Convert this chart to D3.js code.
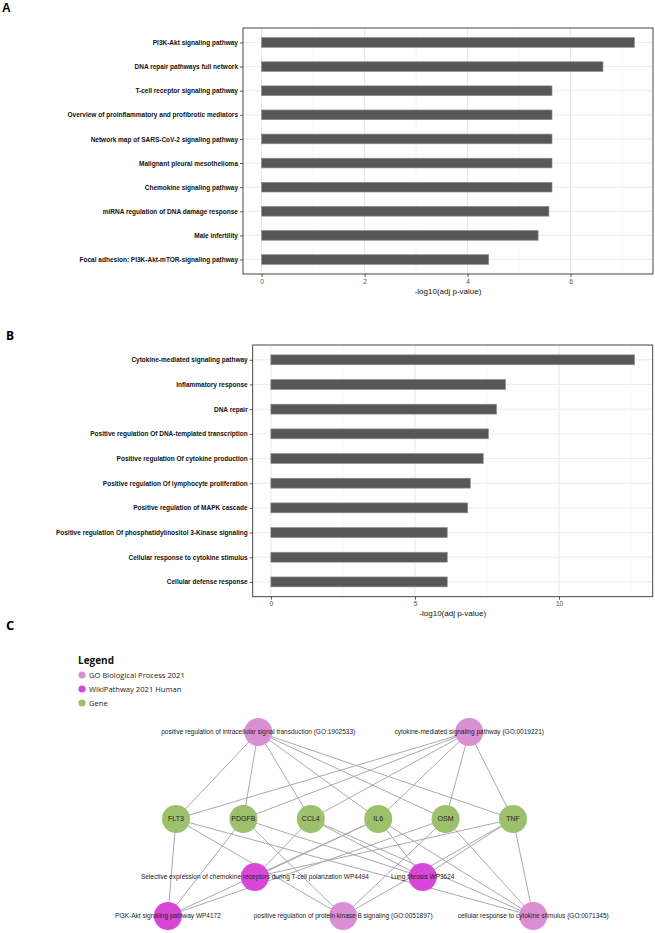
<!DOCTYPE html>
<html>
<head>
<meta charset="utf-8">
<script src="https://cdn.jsdelivr.net/npm/d3@7"></script>
<style>
  body { margin: 0; background: #fff; }
  svg { display: block; }
</style>
</head>
<body>
<svg id="chart" width="655" height="933"></svg>
<script>
// Panel A - WikiPathway enrichment
const pathwaysA = [
  'PI3K-Akt signaling pathway',
  'DNA repair pathways full network',
  'T-cell receptor signaling pathway',
  'Overview of proinflammatory and profibrotic mediators',
  'Network map of SARS-CoV-2 signaling pathway',
  'Malignant pleural mesothelioma',
  'Chemokine signaling pathway',
  'miRNA regulation of DNA damage response',
  'Male infertility',
  'Focal adhesion: PI3K-Akt-mTOR-signaling pathway'
];
const valuesA = [7.24, 6.63, 5.64, 5.64, 5.64, 5.64, 5.64, 5.58, 5.37, 4.41];
const ticksA = [0, 2, 4, 6];
const minorA = [1, 3, 5, 7];

// Panel B - GO biological process enrichment
const termsB = [
  'Cytokine-mediated signaling pathway',
  'Inflammatory response',
  'DNA repair',
  'Positive regulation Of DNA-templated transcription',
  'Positive regulation Of cytokine production',
  'Positive regulation Of lymphocyte proliferation',
  'Positive regulation of MAPK cascade',
  'Positive regulation Of phosphatidylinositol 3-Kinase signaling',
  'Cellular response to cytokine stimulus',
  'Cellular defense response'
];
const valuesB = [12.62, 8.14, 7.83, 7.55, 7.37, 6.92, 6.83, 6.12, 6.12, 6.12];
const ticksB = [0, 5, 10];
const minorB = [2.5, 7.5, 12.5];

const axisTitle = '-log10(adj p-value)';

// Panel C - network
const legendLabels = ['GO Biological Process 2021', 'WikiPathway 2021 Human', 'Gene'];
const genes = ['FLT3', 'PDGFB', 'CCL4', 'IL6', 'OSM', 'TNF'];
const goTerms = [
  'positive regulation of intracellular signal transduction (GO:1902533)',
  'cytokine-mediated signaling pathway (GO:0019221)',
  'positive regulation of protein kinase B signaling (GO:0051897)',
  'cellular response to cytokine stimulus (GO:0071345)'
];
const wikiTerms = [
  'Selective expression of chemokine receptors during T-cell polarization WP4494',
  'Lung fibrosis WP3624',
  'PI3K-Akt signaling pathway WP4172'
];
const edges = [
  [goTerms[0], 'FLT3'], [goTerms[0], 'PDGFB'], [goTerms[0], 'CCL4'],
  [goTerms[0], 'IL6'], [goTerms[0], 'OSM'], [goTerms[0], 'TNF'],
  [goTerms[1], 'FLT3'], [goTerms[1], 'PDGFB'], [goTerms[1], 'CCL4'],
  [goTerms[1], 'IL6'], [goTerms[1], 'OSM'], [goTerms[1], 'TNF'],
  [wikiTerms[0], 'CCL4'], [wikiTerms[0], 'IL6'], [wikiTerms[0], 'TNF'],
  [wikiTerms[1], 'PDGFB'], [wikiTerms[1], 'CCL4'], [wikiTerms[1], 'IL6'], [wikiTerms[1], 'TNF'],
  [wikiTerms[2], 'FLT3'], [wikiTerms[2], 'PDGFB'], [wikiTerms[2], 'IL6'], [wikiTerms[2], 'OSM'],
  [goTerms[2], 'FLT3'], [goTerms[2], 'PDGFB'], [goTerms[2], 'OSM'], [goTerms[2], 'TNF'],
  [goTerms[3], 'FLT3'], [goTerms[3], 'CCL4'], [goTerms[3], 'IL6'], [goTerms[3], 'OSM'], [goTerms[3], 'TNF']
];

const svg = d3.select('#chart');
const sans = 'Liberation Sans, Arial, sans-serif';

// Panel letters
svg.append('text').attr('x', 2).attr('y', 12)
  .style('font-family', sans).style('font-weight', 'bold').style('font-size', '12px')
  .text('A');
svg.append('text').attr('x', 6).attr('y', 340)
  .style('font-family', 'Open Sans, sans-serif').style('font-weight', 'bold').style('font-size', '12px')
  .text('B');
svg.append('text').attr('x', 6).attr('y', 630)
  .style('font-family', 'Open Sans, sans-serif').style('font-weight', 'bold').style('font-size', '13px')
  .text('C');

// ggplot-like horizontal bar chart
function drawBars(opts) {
  const { labels, values, ticks, minor, left, right, top, bottom } = opts;
  const max = d3.max(values);
  const x = d3.scaleLinear()
    .domain([-0.05 * max, 1.05 * max])
    .range([left, right]);
  const y = d3.scalePoint()
    .domain(labels)
    .range([top, bottom])
    .padding(0.6);
  const barH = y.step() * 0.4;

  const g = svg.append('g');

  // minor grid
  g.selectAll('.minor')
    .data(minor)
    .enter().append('line')
    .attr('x1', d => x(d)).attr('x2', d => x(d))
    .attr('y1', top).attr('y2', bottom)
    .attr('stroke', '#f2f2f2').attr('stroke-width', 0.6);

  // major grid
  g.selectAll('.major-x')
    .data(ticks)
    .enter().append('line')
    .attr('x1', d => x(d)).attr('x2', d => x(d))
    .attr('y1', top).attr('y2', bottom)
    .attr('stroke', '#e8e8e8').attr('stroke-width', 1);

  g.selectAll('.major-y')
    .data(labels)
    .enter().append('line')
    .attr('x1', left).attr('x2', right)
    .attr('y1', d => y(d)).attr('y2', d => y(d))
    .attr('stroke', '#ececec').attr('stroke-width', 1);

  // bars
  g.selectAll('.bar')
    .data(labels)
    .enter().append('rect')
    .attr('x', x(0))
    .attr('y', d => y(d) - barH / 2)
    .attr('width', (d, i) => x(values[i]) - x(0))
    .attr('height', barH)
    .attr('fill', '#575757')
    .attr('stroke', '#8c8c8c')
    .attr('stroke-width', 0.7);

  // panel border
  g.append('rect')
    .attr('x', left).attr('y', top)
    .attr('width', right - left).attr('height', bottom - top)
    .attr('fill', 'none')
    .attr('stroke', '#333333')
    .attr('stroke-width', 0.9);

  // axes
  const xAxis = g.append('g')
    .attr('transform', `translate(0,${bottom})`)
    .call(d3.axisBottom(x).tickValues(ticks).tickSize(3).tickPadding(2));
  xAxis.select('.domain').remove();
  xAxis.selectAll('line').attr('stroke', '#333333').attr('stroke-width', 0.8);
  xAxis.selectAll('text')
    .style('font-family', sans).style('font-size', '6.5px').style('fill', '#4d4d4d');

  const yAxis = g.append('g')
    .attr('transform', `translate(${left},0)`)
    .call(d3.axisLeft(y).tickSize(3).tickPadding(2));
  yAxis.select('.domain').remove();
  yAxis.selectAll('line').attr('stroke', '#333333').attr('stroke-width', 0.8);
  yAxis.selectAll('text')
    .style('font-family', sans).style('font-size', '6.5px')
    .style('font-weight', 'bold').style('fill', '#111111');

  g.append('text')
    .attr('x', (left + right) / 2)
    .attr('y', bottom + 19.5)
    .attr('text-anchor', 'middle')
    .style('font-family', sans).style('font-size', '8px').style('fill', '#111111')
    .text(axisTitle);
}

drawBars({ labels: pathwaysA, values: valuesA, ticks: ticksA, minor: minorA,
  left: 243, right: 653, top: 28, bottom: 274 });
drawBars({ labels: termsB, values: valuesB, ticks: ticksB, minor: minorB,
  left: 252.7, right: 652.7, top: 345, bottom: 596.7 });

// Legend
const nodeColor = { go: '#da8fd4', wiki: '#d947d9', gene: '#9cc06c' };
const legendColor = d3.scaleOrdinal()
  .domain(legendLabels)
  .range([nodeColor.go, nodeColor.wiki, nodeColor.gene]);
const legendY = d3.scalePoint().domain(legendLabels).range([675, 703]);

svg.append('text')
  .attr('x', 78).attr('y', 664)
  .style('font-family', 'Open Sans, sans-serif').style('font-weight', 'bold').style('font-size', '10px')
  .style('fill', '#111')
  .text('Legend');
const legend = svg.append('g');
legend.selectAll('circle')
  .data(legendLabels)
  .enter().append('circle')
  .attr('cx', 82).attr('cy', d => legendY(d)).attr('r', 3.6)
  .attr('fill', d => legendColor(d));
legend.selectAll('text')
  .data(legendLabels)
  .enter().append('text')
  .attr('x', 89).attr('y', d => legendY(d)).attr('dy', '0.35em')
  .style('font-family', 'Open Sans, sans-serif').style('font-size', '7.6px').style('fill', '#222')
  .text(d => d);

// Network layout (column units along the gene row, plus row heights)
const col = d3.scaleLinear().domain([0, 5]).range([176, 513]);
const rowY = { top: 732, gene: 819, mid: 877, bottom: 916 };
const layout = {};
genes.forEach((gName, i) => { layout[gName] = { c: i, r: 'gene', type: 'gene' }; });
layout[goTerms[0]] = { c: 1.22, r: 'top', type: 'go' };
layout[goTerms[1]] = { c: 4.35, r: 'top', type: 'go' };
layout[wikiTerms[0]] = { c: 1.17, r: 'mid', type: 'wiki' };
layout[wikiTerms[1]] = { c: 3.66, r: 'mid', type: 'wiki' };
layout[wikiTerms[2]] = { c: -0.12, r: 'bottom', type: 'wiki' };
layout[goTerms[2]] = { c: 2.48, r: 'bottom', type: 'go' };
layout[goTerms[3]] = { c: 5.3, r: 'bottom', type: 'go' };

const nodes = Object.keys(layout).map(name => ({
  name,
  type: layout[name].type,
  x: col(layout[name].c),
  y: rowY[layout[name].r]
}));
const byName = new Map(nodes.map(n => [n.name, n]));

const net = svg.append('g');
net.selectAll('.edge')
  .data(edges)
  .enter().append('line')
  .attr('x1', d => byName.get(d[0]).x).attr('y1', d => byName.get(d[0]).y)
  .attr('x2', d => byName.get(d[1]).x).attr('y2', d => byName.get(d[1]).y)
  .attr('stroke', '#aaaaaa')
  .attr('stroke-width', 1);

net.selectAll('.node')
  .data(nodes)
  .enter().append('circle')
  .attr('cx', d => d.x).attr('cy', d => d.y)
  .attr('r', 14)
  .attr('fill', d => nodeColor[d.type]);

net.selectAll('.label')
  .data(nodes)
  .enter().append('text')
  .attr('x', d => d.x).attr('y', d => d.y).attr('dy', '0.35em')
  .attr('text-anchor', 'middle')
  .style('font-family', sans)
  .style('font-size', d => d.type === 'gene' ? '7px' : '6.5px')
  .style('fill', '#222')
  .text(d => d.name);
</script>
</body>
</html>
